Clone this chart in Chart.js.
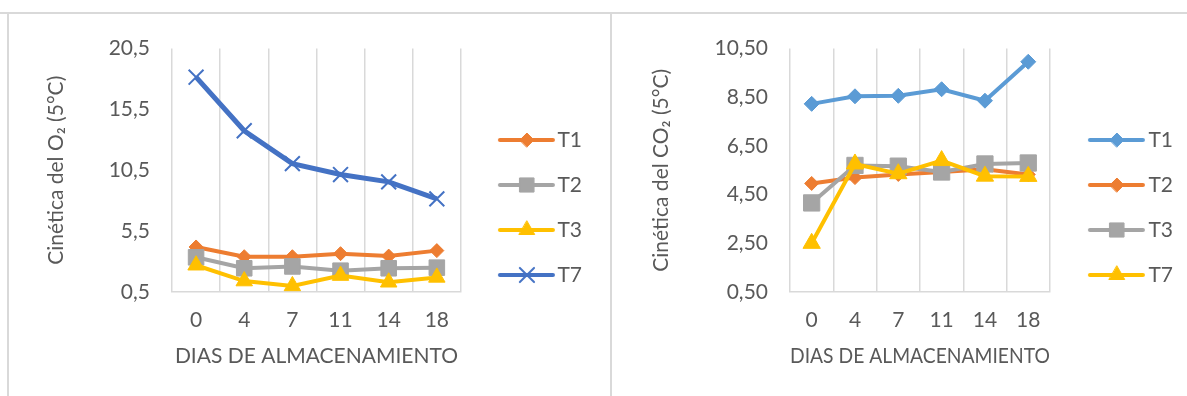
<!DOCTYPE html>
<html>
<head>
<meta charset="utf-8">
<script src="https://cdn.jsdelivr.net/npm/chart.js@4/dist/chart.umd.min.js"></script>
<style>
  html, body { margin: 0; padding: 0; background: #fff; }
  body { width: 1187px; height: 396px; position: relative; overflow: hidden; }
  .line { position: absolute; background: #d9d9d9; }
  canvas { position: absolute; }
</style>
</head>
<body>
<div class="line" style="left:0;top:12px;width:1187px;height:2px"></div>
<div class="line" style="left:7px;top:12px;width:2px;height:384px"></div>
<div class="line" style="left:610px;top:12px;width:2px;height:384px"></div>
<canvas id="chart_o2" width="600" height="382" style="left:9px;top:14px"></canvas>
<canvas id="chart_co2" width="574" height="382" style="left:613px;top:14px"></canvas>
<script>
// dias de almacenamiento
var dias = ['0', '4', '7', '11', '14', '18'];

// O2 (5°C)
var o2Labels = ['T1', 'T2', 'T3', 'T7'];
var o2T1 = [4.2, 3.4, 3.4, 3.65, 3.45, 3.9];
var o2T2 = [3.35, 2.45, 2.6, 2.25, 2.45, 2.5];
var o2T3 = [2.7, 1.4, 1.0, 1.85, 1.3, 1.7];
var o2T7 = [18.15, 13.75, 11.05, 10.15, 9.55, 8.15];
var o2Ticks = [0.5, 5.5, 10.5, 15.5, 20.5];

// CO2 (5°C)
var co2Labels = ['T1', 'T2', 'T3', 'T7'];
var co2T1 = [8.23, 8.54, 8.56, 8.83, 8.36, 9.96];
var co2T2 = [4.96, 5.2, 5.33, 5.43, 5.54, 5.33];
var co2T3 = [4.16, 5.7, 5.67, 5.43, 5.76, 5.8];
var co2T7 = [2.5, 5.76, 5.36, 5.9, 5.26, 5.25];
var co2Ticks = [0.5, 2.5, 4.5, 6.5, 8.5, 10.5];

var ORANGE = '#ED7D31', GRAY = '#A5A5A5', YELLOW = '#FFC000', DARKBLUE = '#4472C4', BLUE = '#5B9BD5';
var TEXT = '#595959', GRID = '#d9d9d9';

Chart.defaults.font.family = "Lato, 'Noto Sans', sans-serif";
Chart.defaults.color = TEXT;

function series(label, values, color, style, radius, width, n) {
    return {
        label: label,
        data: values,
        borderColor: color,
        backgroundColor: color,
        borderWidth: width,
        pointStyle: style,
        pointRadius: radius,
        pointBorderColor: color,
        pointBackgroundColor: color,
        pointBorderWidth: style === 'crossRot' ? 2 : 1,
        tension: 0,
        clip: false,
        order: n
    };
}

// line + marker, as in the excel legend
function legendIcon(color, style, radius) {
    var c = document.createElement('canvas');
    c.width = 80;
    c.height = 26;
    var ctx = c.getContext('2d');
    ctx.strokeStyle = color;
    ctx.fillStyle = color;
    ctx.lineWidth = 4;
    ctx.lineCap = 'round';
    ctx.beginPath();
    ctx.moveTo(24, 13);
    ctx.lineTo(77, 13);
    ctx.stroke();
    ctx.lineWidth = style === 'crossRot' ? 2 : 1;
    Chart.helpers.drawPoint(ctx, {pointStyle: style, radius: radius, rotation: 0, borderWidth: ctx.lineWidth}, 51, 13);
    return c;
}

function makeChart(id, datasets, icons, ticks, decimals, yTitle, yWidth, titlePad, boxW, padRight) {
    return new Chart(document.getElementById(id), {
        type: 'line',
        data: { labels: dias, datasets: datasets },
        options: {
            responsive: false,
            animation: false,
            layout: { padding: { top: 29, right: padRight, bottom: 24, left: 0 } },
            plugins: {
                tooltip: { enabled: false },
                legend: {
                    position: 'right',
                    labels: {
                        usePointStyle: true,
                        pointStyleWidth: boxW,
                        padding: 24,
                        color: TEXT,
                        font: { size: 21 },
                        generateLabels: function(chart) {
                            return chart.data.datasets.map(function(ds, i) {
                                return {
                                    text: ds.label,
                                    pointStyle: icons[i],
                                    fillStyle: ds.borderColor,
                                    strokeStyle: ds.borderColor,
                                    lineWidth: 0,
                                    fontColor: TEXT,
                                    hidden: false,
                                    datasetIndex: i
                                };
                            });
                        }
                    }
                }
            },
            scales: {
                x: {
                    type: 'category',
                    offset: true,
                    grid: { display: true, offset: true, color: GRID, lineWidth: 1.5, drawTicks: false },
                    border: { display: true, color: GRID, width: 1.5 },
                    ticks: { padding: 16, font: { size: 21 }, color: TEXT },
                    title: { display: true, text: 'DIAS DE ALMACENAMIENTO', color: TEXT, font: { size: 21 }, padding: { top: 0, bottom: 3 } },
                    afterFit: function(scale) { scale.height = 80; }
                },
                y: {
                    type: 'linear',
                    min: ticks[0],
                    max: ticks[ticks.length - 1],
                    grid: { display: false, drawTicks: false },
                    border: { display: false },
                    afterBuildTicks: function(scale) {
                        scale.ticks = ticks.map(function(v) { return { value: v }; });
                    },
                    ticks: {
                        padding: 22,
                        font: { size: 21 },
                        color: TEXT,
                        callback: function(value) { return value.toFixed(decimals).replace('.', ','); }
                    },
                    title: { display: true, text: yTitle, color: TEXT, font: { size: 21 }, padding: { top: titlePad, bottom: 0 } },
                    afterFit: function(scale) { scale.width = yWidth; }
                }
            }
        }
    });
}

var chart_o2 = makeChart('chart_o2', [
    series(o2Labels[0], o2T1, ORANGE, 'rectRot', 7, 4, 4),
    series(o2Labels[1], o2T2, GRAY, 'rect', 11, 4, 3),
    series(o2Labels[2], o2T3, YELLOW, 'triangle', 9.5, 4, 2),
    series(o2Labels[3], o2T7, DARKBLUE, 'crossRot', 10.5, 5, 1)
], [
    legendIcon(ORANGE, 'rectRot', 7),
    legendIcon(GRAY, 'rect', 10),
    legendIcon(YELLOW, 'triangle', 9),
    legendIcon(DARKBLUE, 'crossRot', 10)
], o2Ticks, 1, 'Cinética del O₂ (5°C)', 163, 35, 62, 17);

var chart_co2 = makeChart('chart_co2', [
    series(co2Labels[0], co2T1, BLUE, 'rectRot', 7.5, 4, 4),
    series(co2Labels[1], co2T2, ORANGE, 'rectRot', 7, 4, 3),
    series(co2Labels[2], co2T3, GRAY, 'rect', 11.5, 4, 2),
    series(co2Labels[3], co2T7, YELLOW, 'triangle', 10, 4, 1)
], [
    legendIcon(BLUE, 'rectRot', 7),
    legendIcon(ORANGE, 'rectRot', 7),
    legendIcon(GRAY, 'rect', 10),
    legendIcon(YELLOW, 'triangle', 9)
], co2Ticks, 2, 'Cinética del CO₂ (5°C)', 177, 36, 64, 4);
</script>
</body>
</html>
